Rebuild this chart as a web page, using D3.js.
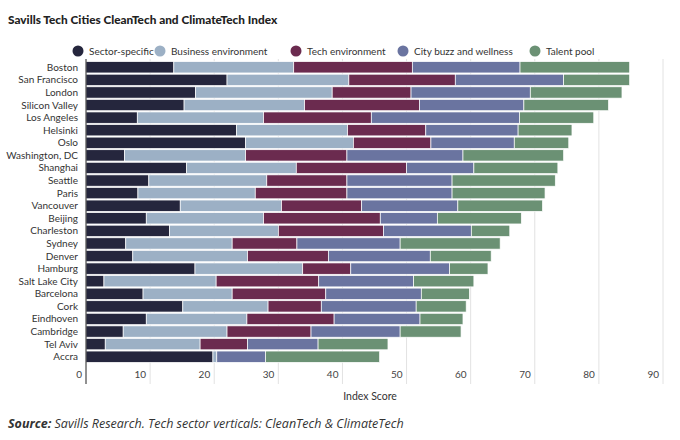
<!DOCTYPE html>
<html>
<head>
<meta charset="utf-8">
<script src="https://cdn.jsdelivr.net/npm/d3@7"></script>
<style>
  body { margin: 0; background: #fff; }
  svg { font-family: Lato, "Open Sans", sans-serif; }
</style>
</head>
<body>
<div id="chart"></div>
<script>
// chart size
const width = 680;
const height = 440;
const margin = {left: 86, right: 18, top: 61, bottom: 78};

// data
const cities = ["Boston", "San Francisco", "London", "Silicon Valley", "Los Angeles",
  "Helsinki", "Oslo", "Washington, DC", "Shanghai", "Seattle", "Paris", "Vancouver",
  "Beijing", "Charleston", "Sydney", "Denver", "Hamburg", "Salt Lake City", "Barcelona",
  "Cork", "Eindhoven", "Cambridge", "Tel Aviv", "Accra"];

const seriesNames = ["Sector-specific", "Business environment", "Tech environment",
  "City buzz and wellness", "Talent pool"];

const sectorSpecific = [13.7, 22.0, 17.1, 15.3, 8.0, 23.5, 24.9, 6.0, 15.7, 9.8, 8.1, 14.7,
  9.4, 13.0, 6.2, 7.3, 17.0, 2.8, 8.9, 15.1, 9.4, 5.8, 3.0, 19.8];
const businessEnv = [18.7, 19.0, 21.3, 18.8, 19.7, 17.3, 16.8, 18.9, 17.1, 18.4, 18.3, 15.8,
  18.3, 17.0, 16.6, 17.9, 16.8, 17.5, 13.9, 13.3, 15.7, 16.2, 14.8, 0.6];
const techEnv = [18.5, 16.6, 12.3, 17.9, 16.8, 12.2, 12.1, 15.8, 17.2, 12.5, 14.3, 12.5,
  18.2, 16.4, 10.1, 12.6, 7.5, 16.0, 14.6, 8.3, 13.6, 13.1, 7.4, 0];
const cityBuzz = [16.8, 16.9, 18.6, 16.3, 23.1, 14.4, 13.0, 18.1, 10.5, 16.4, 16.4, 15.0,
  8.9, 13.7, 16.1, 15.9, 15.4, 14.8, 14.9, 14.8, 13.4, 13.9, 11.0, 7.6];
const talentPool = [17.1, 10.3, 14.3, 13.2, 11.6, 8.4, 8.5, 15.7, 13.1, 16.1, 14.5, 13.2,
  13.1, 6.0, 15.6, 9.5, 6.0, 9.4, 7.5, 7.8, 6.7, 9.5, 10.9, 17.8];

const xTicks = [0, 10, 20, 30, 40, 50, 60, 70, 80, 90];
const colors = ["#25263d", "#9cb0c5", "#6b2b4f", "#6a74a0", "#6b9174"];

// build row objects for d3.stack
const keys = ["s", "b", "t", "c", "p"];
const rows = cities.map((c, i) => ({
  city: c, s: sectorSpecific[i], b: businessEnv[i], t: techEnv[i],
  c: cityBuzz[i], p: talentPool[i]
}));
const stacked = d3.stack().keys(keys)(rows);

const svg = d3.select("#chart")
  .append("svg")
  .attr("width", width)
  .attr("height", height);

// scales
const xScale = d3.scaleLinear()
  .domain([0, 90])
  .range([margin.left, 663]);

const yScale = d3.scaleBand()
  .domain(cities)
  .range([margin.top, height - margin.bottom + 1])
  .paddingInner(0.1)
  .paddingOuter(0.05);

// title
svg.append("text")
  .attr("x", 8)
  .attr("y", 24)
  .attr("font-size", "11.8px")
  .attr("font-weight", "900")
  .attr("fill", "#222")
  .text("Savills Tech Cities CleanTech and ClimateTech Index");

// legend
const legendX = [78, 160, 296, 403, 535];
const legend = svg.append("g");
seriesNames.forEach((name, i) => {
  legend.append("circle")
    .attr("cx", legendX[i])
    .attr("cy", 51)
    .attr("r", 5.5)
    .attr("fill", colors[i]);
  legend.append("text")
    .attr("x", legendX[i] + 11)
    .attr("y", 54.5)
    .attr("font-size", "10px")
    .attr("fill", "#333")
    .text(name);
});

// gridlines
svg.append("g")
  .selectAll("line")
  .data(xTicks.slice(1))
  .enter()
  .append("line")
  .attr("x1", d => xScale(d))
  .attr("x2", d => xScale(d))
  .attr("y1", margin.top - 2)
  .attr("y2", height - margin.bottom + 22)
  .attr("stroke", "#e2e2e2")
  .attr("stroke-width", 1);

// bars
svg.append("g")
  .selectAll("g")
  .data(stacked)
  .enter()
  .append("g")
  .attr("fill", (d, i) => colors[i])
  .selectAll("rect")
  .data(d => d.filter(v => v[1] - v[0] > 0))
  .enter()
  .append("rect")
  .attr("x", d => xScale(d[0]))
  .attr("y", d => yScale(d.data.city))
  .attr("width", d => xScale(d[1]) - xScale(d[0]))
  .attr("height", yScale.bandwidth())
  .attr("stroke", "#fff")
  .attr("stroke-width", 0.7);

// zero axis line
svg.append("line")
  .attr("x1", xScale(0))
  .attr("x2", xScale(0))
  .attr("y1", margin.top - 2)
  .attr("y2", height - margin.bottom + 22)
  .attr("stroke", "#222")
  .attr("stroke-width", 1);

// city labels
svg.append("g")
  .selectAll("text")
  .data(cities)
  .enter()
  .append("text")
  .attr("x", 78)
  .attr("y", d => yScale(d) + yScale.bandwidth() / 2 + 3.5)
  .attr("text-anchor", "end")
  .attr("font-size", "10px")
  .attr("fill", "#333")
  .text(d => d);

// x tick labels (sit just left of their gridline)
svg.append("g")
  .selectAll("text")
  .data(xTicks)
  .enter()
  .append("text")
  .attr("x", d => xScale(d) - 4)
  .attr("y", height - margin.bottom + 16)
  .attr("text-anchor", "end")
  .attr("font-size", "10px")
  .attr("fill", "#444")
  .text(d => d);

// axis title
svg.append("text")
  .attr("x", 370)
  .attr("y", 400)
  .attr("text-anchor", "middle")
  .attr("font-size", "10.5px")
  .attr("fill", "#333")
  .text("Index Score");

// source note
const source = svg.append("text")
  .attr("x", 8)
  .attr("y", 428)
  .attr("font-family", "'Open Sans', sans-serif")
  .attr("font-size", "12.5px")
  .attr("font-style", "italic")
  .attr("fill", "#333");
source.append("tspan").attr("font-weight", "bold").text("Source:");
source.append("tspan").text(" Savills Research. Tech sector verticals: CleanTech & ClimateTech");
</script>
</body>
</html>
